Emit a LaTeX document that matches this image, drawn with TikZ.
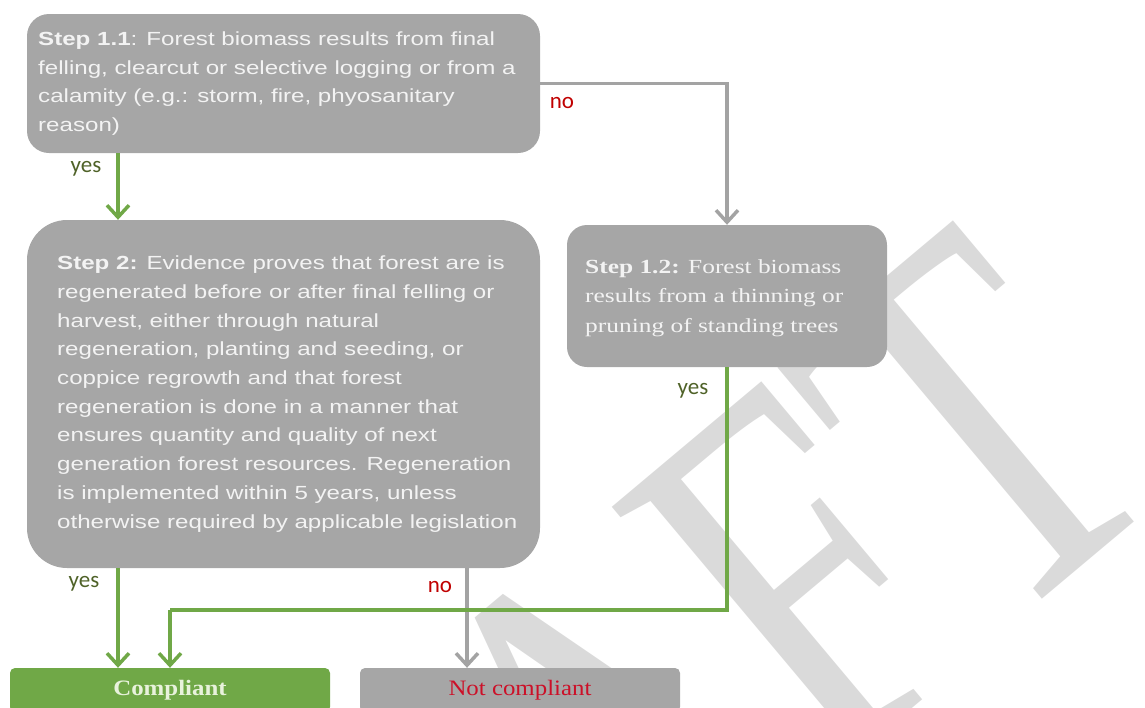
\documentclass[tikz,border=0pt]{standalone}
\usepackage{fontspec}
\setmainfont{Liberation Sans}
\newfontfamily\boxsans[FakeStretch=1.27]{Liberation Sans}
\newfontfamily\boxserif[FakeStretch=1.27]{Liberation Serif}
\newfontfamily\resserif[FakeStretch=1.13]{Liberation Serif}
\newfontfamily\lblfont{Carlito}
\newfontfamily\wmfont[FakeStretch=0.75]{Liberation Serif}
\usetikzlibrary{arrows.meta}

\definecolor{boxgray}{RGB}{166,166,166}
\definecolor{boxtext}{RGB}{243,243,243}
\definecolor{linegray}{RGB}{163,163,163}
\definecolor{okgreen}{RGB}{112,168,71}
\definecolor{oktext}{RGB}{232,242,220}
\definecolor{yesgreen}{RGB}{79,98,40}
\definecolor{nored}{RGB}{192,0,0}
\definecolor{ncred}{RGB}{204,16,40}
\definecolor{wmgray}{RGB}{218,218,218}

\begin{document}
\begin{tikzpicture}[x=1pt,y=-1pt,
  stepbox/.style={fill=boxgray, inner sep=0pt},
  sanstext/.style={text=boxtext, align=left, inner sep=0pt,
    font=\boxsans\fontsize{19}{28.7}\selectfont},
  seriftext/.style={text=boxtext, align=left, inner sep=0pt,
    font=\boxserif\fontsize{20}{29.5}\selectfont},
  resultbox/.style={minimum width=320pt, minimum height=44pt, inner sep=0pt,
    rounded corners=5pt},
  lbl/.style={font=\lblfont\fontsize{23}{26}\selectfont, inner sep=0pt},
  greenarrow/.style={draw=okgreen, line width=3.5pt,
    -{Straight Barb[length=12pt,width=22pt]}},
  grayarrow/.style={draw=linegray, line width=3.5pt,
    -{Straight Barb[length=12pt,width=22pt]}},
  greenline/.style={draw=okgreen, line width=3.5pt}
]
\useasboundingbox (0,0) rectangle (1145,707);
\clip (0,0) rectangle (1145,707);

% watermark behind everything
\node[font=\wmfont\fontsize{530}{530}\selectfont, text=wmgray, rotate=40,
  anchor=base, inner sep=0pt] (wm) at (683,901) {DRAFT};

% step boxes
\node[stepbox, rounded corners=22pt, minimum width=513pt, minimum height=139pt]
  (s11) at (283.5,83.5) {};
\node[sanstext, anchor=west] (s11t) at (38,83.5)
  {\textbf{Step 1.1}: Forest biomass results from final\\
   felling, clearcut or selective logging or from a\\
   calamity (e.g.: storm, fire, phyosanitary\\
   reason)};

\node[stepbox, rounded corners=40pt, minimum width=513pt, minimum height=348pt]
  (s2) at (283.5,394) {};
\node[sanstext, anchor=west] (s2t) at (57,394)
  {\textbf{Step 2:} Evidence proves that forest are is\\
   regenerated before or after final felling or\\
   harvest, either through natural\\
   regeneration, planting and seeding, or\\
   coppice regrowth and that forest\\
   regeneration is done in a manner that\\
   ensures quantity and quality of next\\
   generation forest resources. Regeneration\\
   is implemented within 5 years, unless\\
   otherwise required by applicable legislation};

\node[stepbox, rounded corners=20pt, minimum width=320pt, minimum height=142pt]
  (s12) at (727,296) {};
\node[seriftext, anchor=west] (s12t) at (585,298)
  {\textbf{Step 1.2:} Forest biomass\\
   results from a thinning or\\
   pruning of standing trees};

% outcome boxes
\node[resultbox, fill=okgreen, text=oktext,
  font=\resserif\bfseries\fontsize{22}{26}\selectfont]
  (comp) at (170,690) {Compliant};
\node[resultbox, fill=boxgray, text=ncred,
  font=\resserif\fontsize{22}{26}\selectfont]
  (nc) at (520,690) {Not compliant};

% helper positions for the vertical connectors
\coordinate (xa) at (118,0);
\coordinate (xc) at (467,0);
\coordinate (jn) at (170,610);

% connectors
\draw[grayarrow] (s11.east) -| (s12.north);
\draw[greenarrow] (xa |- s11.south) -- (xa |- s2.north);
\draw[greenarrow] (xa |- s2.south) -- (xa |- comp.north);
\draw[grayarrow] (xc |- s2.south) -- (xc |- nc.north);
\draw[greenline] (s12.south) |- (jn);
\draw[greenarrow] (jn) -- (jn |- comp.north);

% branch labels
\node[lbl, text=yesgreen] (y1) at (86,169) {yes};
\node[lbl, text=nored] (n1) at (562,103) {no};
\node[lbl, text=yesgreen] (y2) at (693,391) {yes};
\node[lbl, text=yesgreen] (y3) at (84,584) {yes};
\node[lbl, text=nored] (n2) at (440,587) {no};
\end{tikzpicture}
\end{document}
